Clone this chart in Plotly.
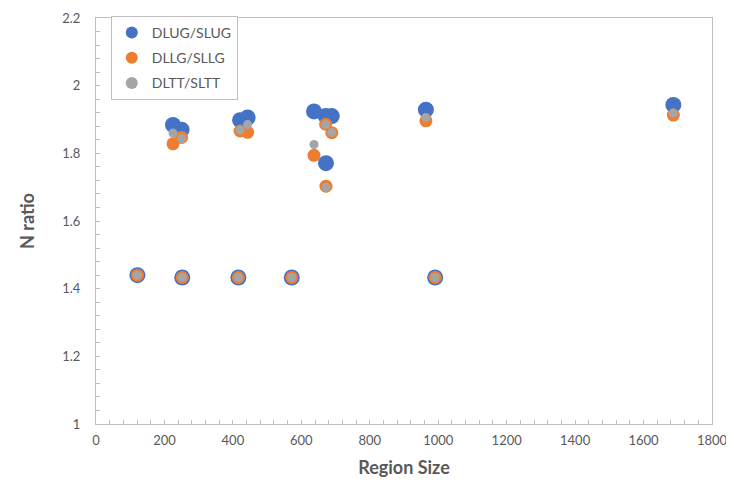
import plotly.graph_objects as go

region_size = [121, 225, 250, 252, 416, 421, 443, 572, 637, 672, 671, 689, 964, 991, 1687]
dlug_slug = [1.44, 1.884, 1.870, 1.433, 1.433, 1.898, 1.906, 1.433, 1.924, 1.771, 1.910, 1.910, 1.929, 1.433, 1.943]
dllg_sllg = [1.44, 1.828, 1.847, 1.433, 1.433, 1.866, 1.862, 1.433, 1.794, 1.703, 1.886, 1.861, 1.896, 1.433, 1.913]
dltt_sltt = [1.44, 1.860, 1.844, 1.433, 1.433, 1.869, 1.885, 1.433, 1.826, 1.700, 1.885, 1.862, 1.906, 1.433, 1.919]

series_names = ["DLUG/SLUG", "DLLG/SLLG", "DLTT/SLTT"]
colors = ["#4472C4", "#ED7D31", "#A5A5A5"]
sizes = [16, 13, 9]

fig = go.Figure()
for i, (name, vals) in enumerate(zip(series_names, [dlug_slug, dllg_sllg, dltt_sltt])):
    fig.add_trace(go.Scatter(
        x=region_size, y=vals, mode="markers", name=name,
        legendgroup=name,
        marker=dict(color=colors[i], size=sizes[i], line=dict(width=0)),
    ))

axis_color = "#BFBFBF"
text_color = "#595959"
font_family = "Lato, Open Sans, sans-serif"

# page body adds an 8px offset, so the figure is sized/margined to compensate
fig.update_layout(
    width=726, height=477,
    margin=dict(l=88, r=22, t=8, b=61),
    paper_bgcolor="white", plot_bgcolor="white",
    font=dict(family=font_family, color=text_color, size=13),
    showlegend=True,
    legend=dict(
        x=0.024, y=1.005, xanchor="left", yanchor="top",
        bordercolor="#BFBFBF", borderwidth=1, bgcolor="white",
        font=dict(size=14, color=text_color),
        itemsizing="constant", tracegroupgap=4,
        traceorder="grouped",
    ),
)
fig.update_xaxes(
    range=[0, 1800], dtick=200, tick0=0, automargin=False,
    showgrid=False, zeroline=False,
    showline=True, linecolor=axis_color, linewidth=1, mirror=True,
    ticks="inside", ticklen=4, tickcolor=axis_color,
    minor=dict(dtick=40, ticks="inside", ticklen=4, tickcolor=axis_color, showgrid=False),
    tickfont=dict(size=13, color=text_color),
    ticklabelstandoff=4,
    title=dict(text="<b>Region Size</b>", font=dict(size=18, color=text_color), standoff=14),
)
fig.update_yaxes(
    range=[1, 2.2], dtick=0.2, tick0=1, automargin=False,
    showgrid=False, zeroline=False,
    showline=True, linecolor=axis_color, linewidth=1, mirror=True,
    ticks="inside", ticklen=4, tickcolor=axis_color,
    minor=dict(dtick=0.04, ticks="inside", ticklen=4, tickcolor=axis_color, showgrid=False),
    tickfont=dict(size=13, color=text_color),
    ticklabelstandoff=12,
    tickformat="~g",
    title=dict(text="<b>N ratio</b>", font=dict(size=18, color=text_color), standoff=22),
)

fig.write_html("out.html")
